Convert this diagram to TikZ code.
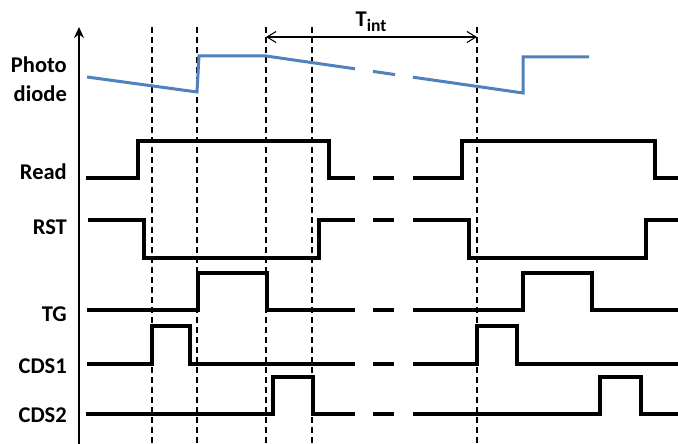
\documentclass[tikz,border=0pt]{standalone}
\usepackage{fontspec}
\setmainfont{Carlito}
\usepackage{xcolor}
\usetikzlibrary{arrows.meta}

\definecolor{pdblue}{RGB}{79,129,189}

\tikzset{
  sig/.style={line width=3.1pt, line join=miter},
  pd/.style={line width=3pt, pdblue, line join=miter},
  vline/.style={line width=1.2pt, dash pattern=on 6pt off 4pt},
  lbl/.style={anchor=base east, inner sep=0pt, font=\fontsize{22.5}{29}\selectfont\bfseries, align=right}
}

\begin{document}
\begin{tikzpicture}[x=1pt,y=-1pt]
\useasboundingbox (0,0) rectangle (678,444);

% signal names
\node[lbl] (photo) at (67,102) {Photo\\diode};
\node[lbl] (read) at (67,179) {Read};
\node[lbl] (rst) at (67,234) {RST};
\node[lbl] (tg) at (67,321) {TG};
\node[lbl] (cds1) at (67,373) {CDS1};
\node[lbl] (cds2) at (67,422) {CDS2};

% time axis
\draw[line width=2.7pt, -{Stealth[length=11pt,width=10pt]}] (79,444) -- (79,27);

% sampling instants
\foreach \x/\n in {152/v1,197/v2,266/v3,312/v4,477/v5} {
  \coordinate (\n) at (\x,27);
  \draw[vline] (\n) -- (\x,444);
}

% integration time
\coordinate (ta) at (266,37);
\coordinate (tb) at (477,37);
\draw[line width=1.1pt, {Straight Barb[length=9pt,width=11pt]}-{Straight Barb[length=9pt,width=11pt]}] (ta) -- (tb);
\node[anchor=base, inner sep=0pt, font=\fontsize{22.5}{27}\selectfont\bfseries] (tint) at (371,27)
  {T\raisebox{-5pt}{\fontsize{17.5}{18}\selectfont int}};

% photodiode voltage
\draw[pd] (87,77) -- (197,92) -- (199,56) -- (266,56) -- (355,68.8);
\draw[pd] (373,71.4) -- (395,74.6);
\draw[pd] (413,77.2) -- (523,93) -- (523,57) -- (589,57);

% Read
\draw[sig] (86,178) -| (138,141) -| (329,178) -- (355,178);
\draw[sig] (413,178) -| (462,141) -| (655,178) -- (678,178);

% RST
\draw[sig] (88,220) -| (144,258) -| (319,220) -- (355,220);
\draw[sig] (413,220) -| (469,258) -| (646,220) -- (678,220);

% TG
\draw[sig] (87,310) -| (198,273) -| (267,310) -- (355,310);
\draw[sig] (413,310) -| (523,273) -| (592,310) -- (678,310);

% CDS1
\draw[sig] (87,364) -| (152,326) -| (190,364) -- (355,364);
\draw[sig] (413,364) -| (477,326) -| (517,364) -- (678,364);

% CDS2
\draw[sig] (86,414) -| (273,377) -| (313,414) -- (355,414);
\draw[sig] (413,414) -| (600,377) -| (641,414) -- (678,414);

% breaks in the time axis
\foreach \y in {178,220,310,364,414}
  \draw[sig] (373,\y) -- (394,\y);
\end{tikzpicture}
\end{document}
